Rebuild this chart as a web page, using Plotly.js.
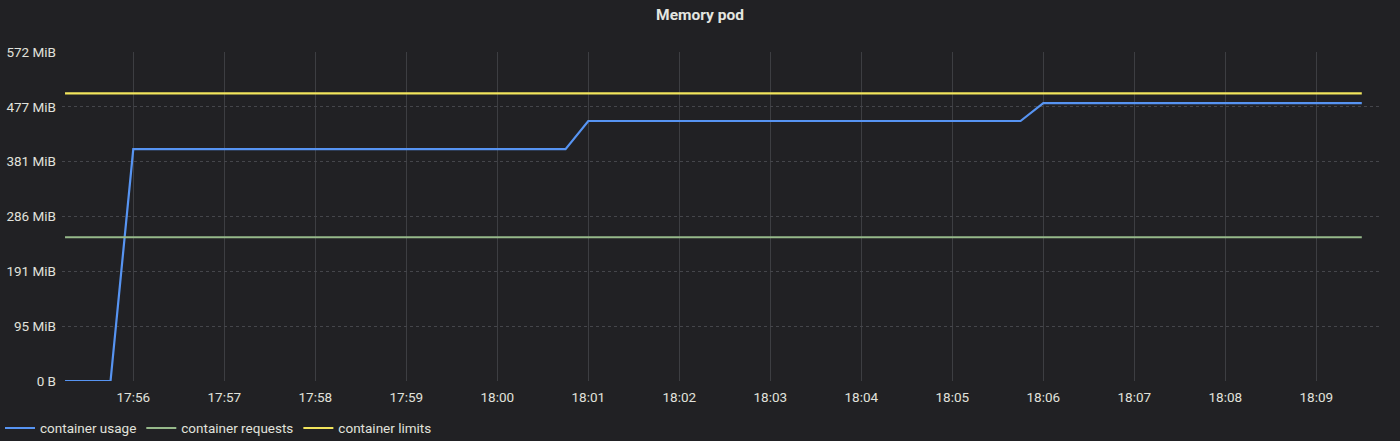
<!DOCTYPE html>
<html><head><meta charset="utf-8">
<script src="https://cdn.plot.ly/plotly-3.0.1.min.js"></script>
<style>html,body{margin:0;padding:0;background:#212124;}#chart{width:1400px;height:441px;}</style>
</head><body><div id="chart"></div>
<script>
const day = '2024-01-01 ';
const usageTimes = ['17:55:15','17:55:45','17:56:00','18:00:45','18:01:00','18:05:45','18:06:00','18:09:30'];
const usageMiB = [0, 0, 403, 403, 452, 452, 483, 483];
const limitTimes = ['17:55:15','18:09:30'];
const requestsMiB = [250, 250];
const limitsMiB = [500, 500];
const yTickVals = [0, 95.333, 190.667, 286, 381.333, 476.667, 572];
const yTickText = ['0 B','95 MiB','191 MiB','286 MiB','381 MiB','477 MiB','572 MiB'];
const seriesNames = ['container usage','container requests','container limits'];

const t = a => a.map(s => day + s);
const traces = [
  {x: t(usageTimes), y: usageMiB, name: seriesNames[0], mode:'lines', line:{color:'#5794F2', width:2.2}},
  {x: t(limitTimes), y: requestsMiB, name: seriesNames[1], mode:'lines', line:{color:'#96B98A', width:2}},
  {x: t(limitTimes), y: limitsMiB, name: seriesNames[2], mode:'lines', line:{color:'#F2E55C', width:2.2}}
];
const layout = {
  width:1400, height:441,
  paper_bgcolor:'#212124', plot_bgcolor:'#212124',
  margin:{l:62, r:20, t:52, b:60, autoexpand:false},
  font:{family:'Roboto, sans-serif', color:'#d8d9da', size:13.5},
  title:{text:'<b>Memory pod</b>', x:0.5, xanchor:'center', y:0.968, yanchor:'middle', font:{size:15.5, color:'#e4e6e0', family:'Roboto, sans-serif'}},
  xaxis:{type:'date', range:[day+'17:55:13', day+'18:09:42'], tickformat:'%H:%M', dtick:60000,
    tick0: day+'17:56:00', showgrid:true, gridcolor:'#3d3e42', gridwidth:1, zeroline:false, showline:false,
    ticks:'', ticklen:0, ticklabelstandoff:6, tickfont:{size:13.5, color:'#e0e2dc'}, fixedrange:true},
  yaxis:{range:[0,572], tickvals:yTickVals, ticktext:yTickText, showgrid:true, gridcolor:'#45464b', griddash:'dot',
    gridwidth:1, zeroline:false, showline:false, ticks:'', ticklabelstandoff:5, tickfont:{size:13.5, color:'#e0e2dc'}, fixedrange:true},
  showlegend:true,
  legend:{orientation:'h', xref:'container', x:-0.003, xanchor:'left', yref:'container', y:0.029, yanchor:'middle',
    font:{size:13.5, color:'#e0e2dc'}, bgcolor:'rgba(0,0,0,0)', itemwidth:30, tracegroupgap:0},
};
Plotly.newPlot('chart', traces, layout, {displayModeBar:false, staticPlot:true});
</script></body></html>
